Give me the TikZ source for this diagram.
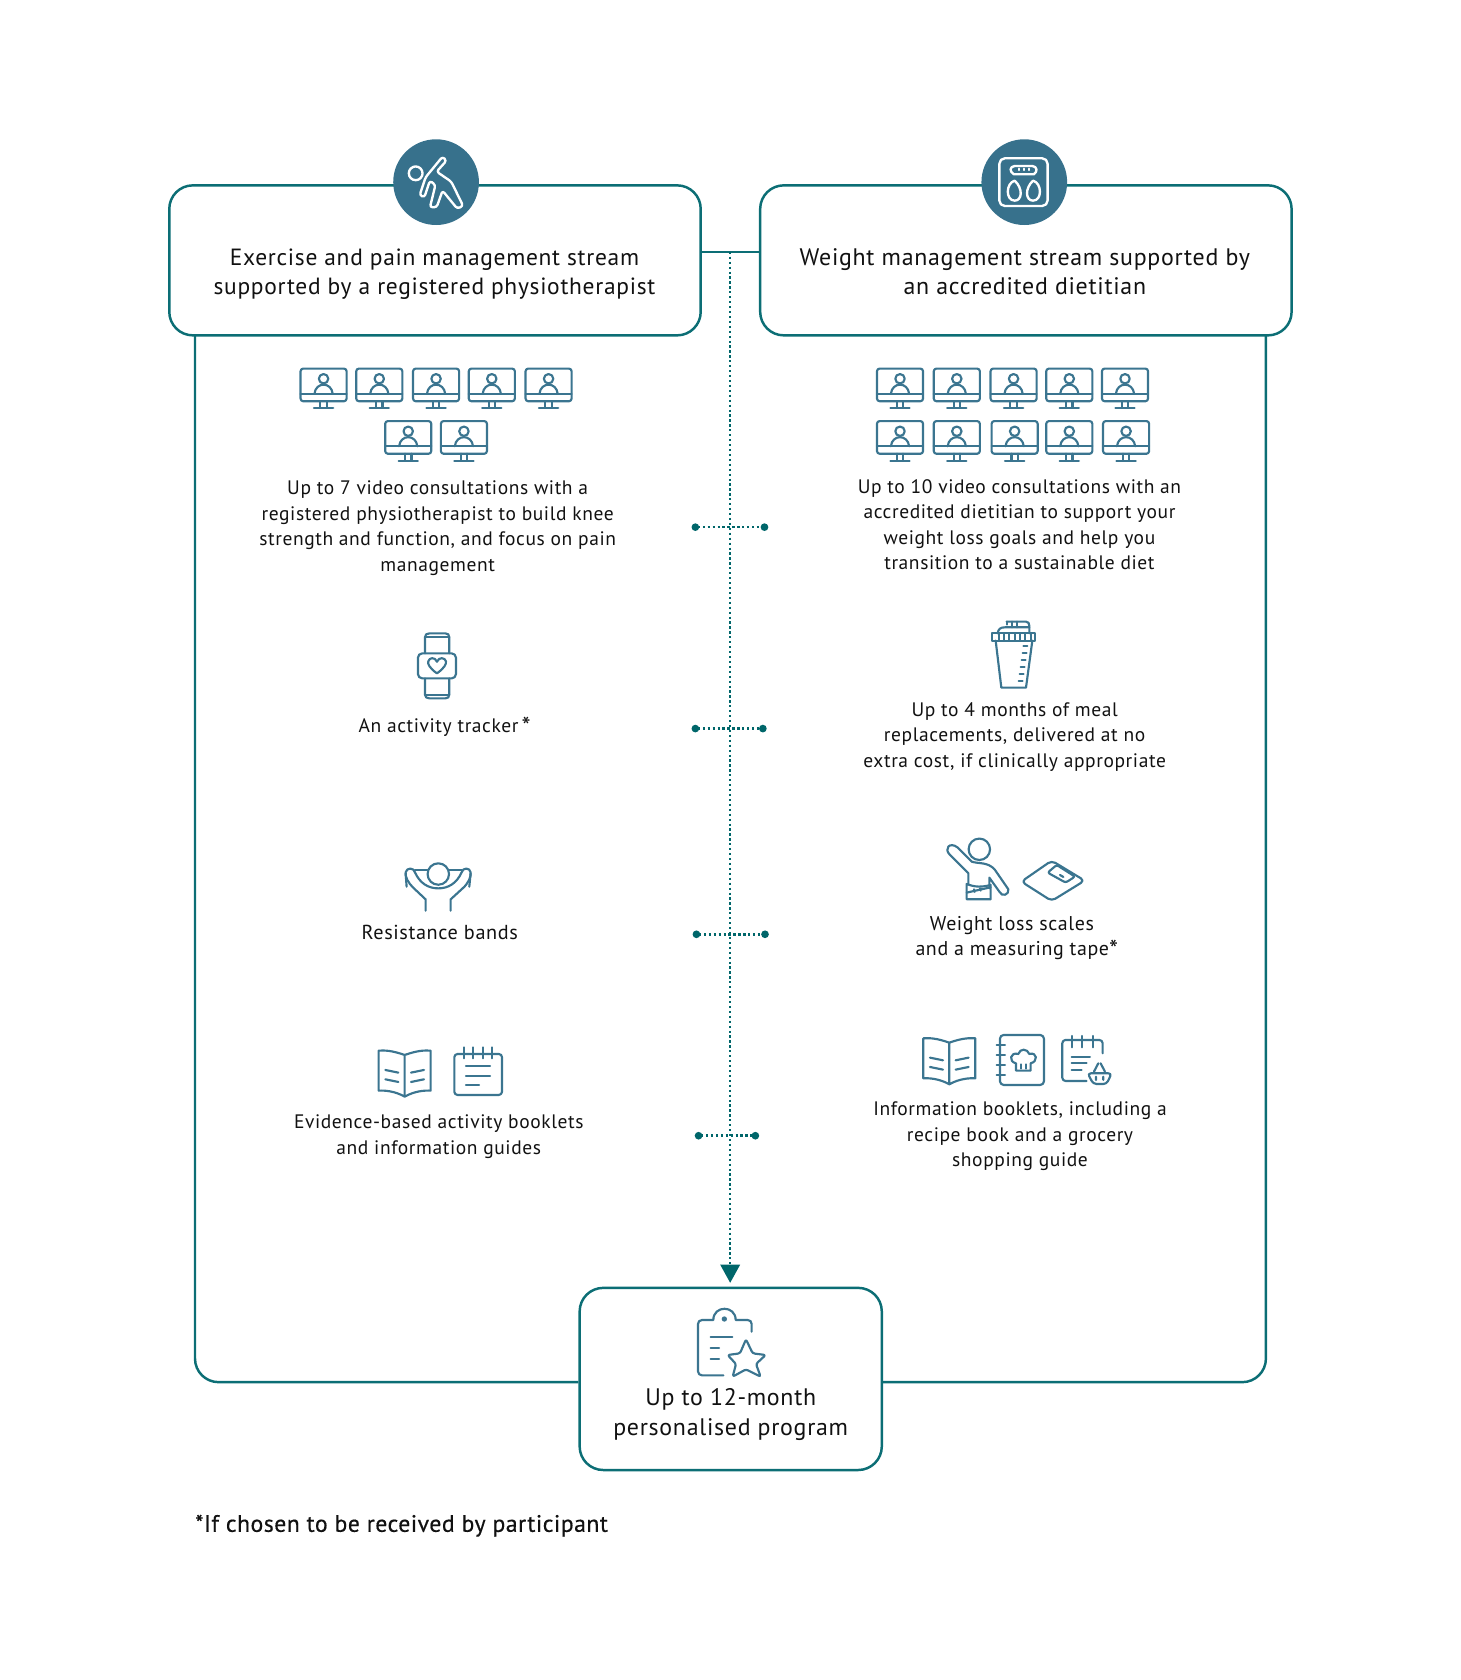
\documentclass[tikz,border=0pt]{standalone}
\usepackage{fontspec}
\setmainfont[LetterSpace=3]{PT Sans}
\newfontfamily\medfont[LetterSpace=2,FakeBold=0.45]{PT Sans}
\usetikzlibrary{arrows.meta}
\definecolor{teal}{HTML}{0C6E75}
\definecolor{dotc}{HTML}{00666A}
\definecolor{iconc}{HTML}{3B7590}
\definecolor{disc}{HTML}{37718C}
\definecolor{ink}{HTML}{111111}
\tikzset{
  boxs/.style={draw=teal,line width=2.3pt,rounded corners=22pt,fill=white,minimum width=#1,inner sep=0pt},
  frames/.style={draw=teal,line width=2.3pt,rounded corners=22pt},
  dots/.style={draw=dotc,line width=2.4pt,dash pattern=on 2.1pt off 2.5pt},
  rowdots/.style={dots,{Circle[length=7pt,width=7pt]}-{Circle[length=7pt,width=7pt]}},
  disk/.style={circle,fill=disc,minimum size=80pt,inner sep=0pt},
  head/.style={text=ink,align=center,font=\fontsize{22.3}{27}\selectfont},
  body/.style={text=ink,align=center,font=\fontsize{18.2}{23.8}\selectfont},
  ic/.style={draw=iconc,line width=2pt,line cap=round,line join=round},
  wh/.style={draw=white,line width=2.2pt,line cap=round,line join=round},
  zs/.style 2 args={shift={(#1,#2)},x=.3111pt,y=-.3111pt},
  monitor/.pic={
    \draw[ic,rounded corners=2.5pt] (-21.5,0) rectangle (21.5,30.5);
    \draw[ic] (-21.5,23.5) -- (21.5,23.5);
    \draw[ic] (-3,30.5) -- (-3,36.5) (3,30.5) -- (3,36.5) (-9,37) -- (9,37);
    \draw[ic] (0,9.5) circle[radius=4.4];
    \draw[ic] (-8.5,23.5) .. controls (-8,18) and (-4,15) .. (0,15) .. controls (4,15) and (8,18) .. (8.5,23.5);
  },
  bookb/.pic={
    \draw[ic] (0,0) .. controls (-40,-14) and (-60,-14) .. (-78,-13) -- (-78,107) .. controls (-60,106) and (-30,108) .. (0,125) .. controls (30,108) and (60,106) .. (78,107) -- (78,-13) .. controls (60,-14) and (40,-14) .. (0,0) -- cycle (0,0) -- (0,125);
    \draw[ic] (-58,45) -- (-19,53) (-58,73) -- (-19,81) (19,53) -- (58,45) (19,81) -- (58,73);
  }
}
\begin{document}
\begin{tikzpicture}[x=1pt,y=-1pt]
\useasboundingbox (0,0) rectangle (1362.7,1568);
% frame
\coordinate (fl) at (182,313);
\coordinate (fb) at (182,1290);
\coordinate (fr) at (1181.5,313);
\coordinate (frb) at (1181.5,1290);
\node[boxs=282pt,minimum height=170pt] (box3) at (682,1287) {};
\draw[frames] (fl) -- (fb) -- (box3.west |- fb);
\draw[frames] (fr) -- (frb) -- (box3.east |- frb);
% boxes
\node[boxs=496pt,minimum height=140pt] (box1) at (406,243) {};
\node[boxs=496pt,minimum height=140pt] (box2) at (957.5,243) {};
\coordinate (lk1) at (box1.east |- 0,235);
\coordinate (lk2) at (box2.west |- 0,235);
\coordinate (lkm) at (681.5,235);
\draw[draw=teal,line width=2.3pt] (lk1) -- (lk2);
% main dotted line
\draw[dots,-{Triangle[length=17pt,width=18pt,fill=dotc]},shorten >=3.5pt] (lkm) -- (box3.north -| lkm);
% row dots
\coordinate (r1a) at (645.5,492); \coordinate (r1b) at (717,492);
\coordinate (r2a) at (645.5,680); \coordinate (r2b) at (715.5,680);
\coordinate (r3a) at (646.5,872); \coordinate (r3b) at (717.5,872);
\coordinate (r4a) at (648.5,1060); \coordinate (r4b) at (708.5,1060);
\draw[rowdots] (r1a) -- (r1b);
\draw[rowdots] (r2a) -- (r2b);
\draw[rowdots] (r3a) -- (r3b);
\draw[rowdots] (r4a) -- (r4b);
% discs
\node[disk] (d1) at (407,170) {};
\node[disk] (d2) at (956,170) {};
% exercise figure
\begin{scope}[shift={(140,112)},x=.369pt,y=-.311pt]
 \draw[wh] (672,160) circle[radius=6.4pt];
 \draw[wh,rounded corners=2.5pt] (697,172) -- (740,110) -- (750,122) -- (725,155) -- (762,185) -- (792,258) -- (777,266) -- (740,212) -- (725,262) -- (708,262) -- (722,195) -- (708,182) -- (694,232) -- (682,226) -- cycle;
\end{scope}
% scale glyph
\begin{scope}[shift={(700,112)},x=.357pt,y=-.311pt]
 \draw[wh,rounded corners=5pt] (652,115) rectangle (778,258);
 \draw[wh] (690,163) .. controls (678,155) and (678,140) .. (692,138) -- (738,138) .. controls (752,140) and (752,155) .. (742,163) -- cycle;
 \draw[wh] (703,146) -- (703,150) (716,146) -- (716,150) (729,146) -- (729,150);
 \draw[wh] (692,182) .. controls (668,190) and (668,242) .. (692,242) .. controls (712,242) and (714,205) .. (692,182);
 \draw[wh] (740,182) .. controls (764,190) and (764,242) .. (740,242) .. controls (720,242) and (718,205) .. (740,182);
\end{scope}
% monitors
\foreach \cx in {302,354,407,459,512} \pic at (\cx,344) {monitor};
\foreach \cx in {381,433} \pic at (\cx,393) {monitor};
\foreach \cx in {840,893,946,998,1050} \pic at (\cx,344) {monitor};
\foreach \cx in {840,893,947,998,1051} \pic at (\cx,393) {monitor};
% watch
\begin{scope}[zs={317.3}{578.7}]
 \draw[ic] (255,100) -- (255,52) .. controls (255,44) and (260,40) .. (268,40) -- (316,40) .. controls (324,40) and (328,44) .. (328,52) -- (328,100);
 \draw[ic] (255,175) -- (255,223) .. controls (255,231) and (260,235) .. (268,235) -- (316,235) .. controls (324,235) and (328,231) .. (328,223) -- (328,175);
 \draw[ic] (255,50) -- (328,50) (255,226) -- (328,226);
 \draw[ic,rounded corners=4pt] (234,100) rectangle (348,175);
 \draw[ic] (291,160) .. controls (270,145) and (262,132) .. (265,124) .. controls (268,112) and (285,110) .. (291,125) .. controls (297,110) and (315,112) .. (318,124) .. controls (320,132) and (312,145) .. (291,160) -- cycle;
\end{scope}
% resistance band
\begin{scope}[zs={317.3}{578.7}]
 \draw[ic] (295,762) circle[radius=10pt];
 \draw[ic] (257,872) -- (257,838) -- (222,805) .. controls (205,790) and (195,770) .. (197,757) .. controls (200,742) and (222,742) .. (225,757) .. controls (240,790) and (265,805) .. (295,805) .. controls (325,805) and (350,790) .. (365,757) .. controls (368,742) and (390,742) .. (392,757) .. controls (394,770) and (385,790) .. (368,805) -- (332,838) -- (332,872);
 \draw[ic] (225,750) -- (262,750) (328,750) -- (365,750);
 \draw[ic] (197,760) -- (200,800) (392,760) -- (388,800);
\end{scope}
% shaker
\begin{scope}[zs={840}{569.3}]
 \draw[ic] (277,70) rectangle (406,92);
 \foreach \tx in {296,312,328,344,360,376,392} \draw[ic] (\tx,72) -- (\tx,90);
 \draw[ic] (287,92) -- (304,233) -- (378,233) -- (397,92);
 \foreach \ty/\tl in {107/370,129/368,150/365,171/362,192/359,214/356} \draw[ic] (\tl,\ty) -- ++(12,0);
 \draw[ic] (293,70) .. controls (295,58) and (300,52) .. (315,52) -- (388,52);
 \draw[ic] (320,35) -- (378,35) .. controls (385,35) and (388,40) .. (388,48) -- (388,70);
 \draw[ic] (335,35) -- (335,52) (350,35) -- (350,52) (320,35) -- (320,44);
\end{scope}
% person with tape
\begin{scope}[zs={840}{569.3}]
 \draw[ic] (238,718) circle[radius=10pt];
 \draw[ic] (205,822) -- (205,790) -- (150,735) .. controls (130,715) and (150,695) .. (172,712) -- (215,755) .. controls (235,762) and (265,755) .. (285,780) -- (325,838) .. controls (328,855) and (305,862) .. (298,845) -- (268,803) -- (268,835);
 \draw[ic] (200,822) .. controls (225,832) and (245,832) .. (272,825) -- (272,868) -- (200,868) -- cycle;
 \draw[ic] (200,848) -- (272,832) (222,838) -- (224,846) (240,835) -- (242,842);
 \draw[ic,rounded corners=4pt] (364,815) -- (455,752) -- (554,812) -- (455,873) -- cycle;
 \draw[ic,rounded corners=2pt] (443,788) -- (470,765) -- (525,800) -- (497,818) -- cycle;
 \draw[ic] (480,795) -- (490,801);
\end{scope}
% left books
\begin{scope}[zs={336}{961.3}]
 \pic at (134,75) {bookb};
 \draw[ic,rounded corners=3pt] (283,72) rectangle (426,195);
 \foreach \tx in {312,340,368,397} \draw[ic] (\tx,52) -- (\tx,85);
 \draw[ic] (318,108) -- (390,108) (318,137) -- (390,137) (318,165) -- (357,165);
\end{scope}
% right books
\begin{scope}[zs={849.3}{961.3}]
 \pic at (118,38) {bookb};
 \draw[ic,rounded corners=3.5pt] (270,15) rectangle (402,165);
 \foreach \ty in {45,75,105,135} \draw[ic] (260,\ty) -- (285,\ty);
 \draw[ic] (318,122) -- (318,100) .. controls (295,95) and (300,65) .. (325,72) .. controls (330,55) and (352,55) .. (358,72) .. controls (382,65) and (385,95) .. (362,100) -- (362,122) -- cycle;
 \draw[ic] (332,103) -- (332,116) (348,103) -- (348,116);
 \draw[ic,rounded corners=3pt] (578,70) -- (578,30) -- (457,30) -- (457,153) -- (530,153);
 \foreach \tx in {485,517,548} \draw[ic] (\tx,18) -- (\tx,52);
 \draw[ic] (485,80) -- (540,80) (485,100) -- (530,100) (485,120) -- (515,120);
 \draw[ic,rounded corners=3pt] (533,130) -- (605,130) -- (590,162) -- (550,162) -- cycle;
 \draw[ic] (552,125) -- (565,100) (585,125) -- (572,100) (558,140) -- (558,150) (580,140) -- (580,150);
\end{scope}
% clipboard
\begin{scope}[zs={532}{1176}]
 \draw[ic] (545,215) -- (545,192) .. controls (545,185) and (540,180) .. (533,180) -- (497,180) .. controls (497,135) and (430,135) .. (430,180) -- (396,180) .. controls (389,180) and (384,185) .. (384,192) -- (384,334) .. controls (384,341) and (389,346) .. (396,346) -- (460,346);
 \fill[iconc] (463,177) circle[radius=2.5pt];
 \draw[ic] (422,232) -- (487,232) (422,265) -- (447,265) (422,298) -- (447,298);
 \draw[ic,rounded corners=2pt] (528,238) -- (548,280) -- (587,285) -- (558,312) -- (572,350) -- (528,328) -- (488,350) -- (498,312) -- (473,285) -- (510,280) -- cycle;
\end{scope}
% texts
\node[head,font=\fontsize{21.9}{27}\selectfont] (t1) at (405.5,255.5) {Exercise and pain management stream\\supported by a registered physiotherapist};
\node[head] (t2) at (956.5,253.5) {Weight management stream supported by\\an accredited dietitian};
\node[body] (l1) at (408.5,493) {Up to 7 video consultations with a\\registered physiotherapist to build knee\\strength and function, and focus on pain\\management};
\node[body] (r1) at (951.5,489.5) {Up to 10 video consultations with an\\accredited dietitian to support your\\weight loss goals and help you\\transition to a sustainable diet};
\node[body] (l2) at (415,678.5) {An activity tracker\,{\fontsize{24}{24}\selectfont\raisebox{-3pt}{*}}};
\node[body] (r2) at (947,687.5) {Up to 4 months of meal\\replacements, delivered at no\\extra cost, if clinically appropriate};
\node[body,font=\fontsize{18.9}{23.8}\selectfont] (l3) at (410.5,870.5) {Resistance bands};
\node[body,font=\fontsize{18.6}{23.8}\selectfont] (r3) at (949,875.5) {Weight loss scales\hspace*{9pt}\\and a measuring tape{\fontsize{24}{24}\selectfont\raisebox{-3pt}{*}}};
\node[body] (l4) at (409.5,1061) {Evidence-based activity booklets\\and information guides};
\node[body] (r4) at (952,1060.5) {Information booklets, including a\\recipe book and a grocery\\shopping guide};
\node[head,font=\fontsize{22.3}{28}\selectfont] (t3) at (682,1320.5) {Up to 12-month\\personalised program};
\node[text=ink,anchor=west,inner sep=0pt,font=\fontsize{22.2}{26}\selectfont\medfont] (foot) at (182,1424) {*If chosen to be received by participant};
\end{tikzpicture}
\end{document}
